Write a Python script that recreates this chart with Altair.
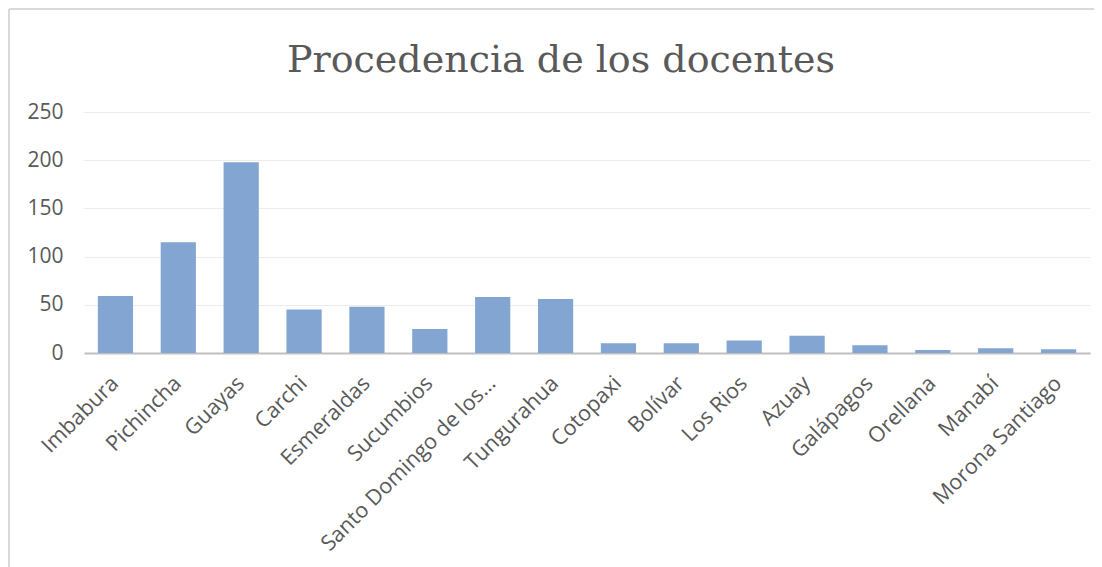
import altair as alt
import pandas as pd

provincias = [
    "Imbabura", "Pichincha", "Guayas", "Carchi", "Esmeraldas", "Sucumbios",
    "Santo  Domingo de los…", "Tungurahua", "Cotopaxi", "Bolívar", "Los Rios",
    "Azuay", "Galápagos", "Orellana", "Manabí", "Morona Santiago",
]
docentes = [59, 115, 198, 45, 48, 25, 58, 56, 10, 10, 13, 18, 8, 3, 5, 4]
y_ticks = [0, 50, 100, 150, 200, 250]

df = pd.DataFrame({"provincia": provincias, "docentes": docentes})

TXT = "#595959"

bars = alt.Chart(df).mark_bar(color="#7fa3d0", opacity=0.98).encode(
    x=alt.X(
        "provincia:N",
        sort=provincias,
        title=None,
        scale=alt.Scale(paddingInner=0.44, paddingOuter=0.22),
        axis=alt.Axis(
            labelAngle=-45,
            labelAlign="right",
            labelBaseline="middle",
            labelFont="Open Sans",
            labelFontSize=21.5,
            labelColor=TXT,
            labelPadding=27,
            labelLimit=400,
            ticks=False,
            domainColor="#bfbfbf",
            domainWidth=2,
            grid=False,
        ),
    ),
    y=alt.Y(
        "docentes:Q",
        title=None,
        scale=alt.Scale(domain=[0, 250]),
        axis=alt.Axis(
            values=y_ticks,
            labelFont="Open Sans",
            labelFontSize=21,
            labelColor=TXT,
            labelPadding=21,
            ticks=False,
            domain=False,
            gridColor="#ececec",
            gridWidth=1,
        ),
    ),
)

frame_left = alt.Chart(df).mark_rule(color="#d9d9d9", strokeWidth=2).encode(
    x=alt.value(-75), y=alt.value(-103), y2=alt.value(470)
)
frame_top = alt.Chart(df).mark_rule(color="#d9d9d9", strokeWidth=2).encode(
    x=alt.value(-75), x2=alt.value(1013), y=alt.value(-103)
)

chart = alt.layer(frame_left, frame_top, bars).properties(
    width=1006,
    height=241,
    title=alt.TitleParams(
        "Procedencia de los docentes",
        font="DejaVu Serif",
        fontSize=38,
        fontWeight="normal",
        color=TXT,
        anchor="middle",
        dx=-26,
        dy=72,
        offset=0,
    ),
    autosize=alt.AutoSizeParams(type="none"),
    padding={"left": 76, "top": 104, "right": 4, "bottom": 215},
    background="white",
).configure_view(stroke=None)

chart.save("out.html", embed_options={"renderer": "svg", "actions": False})
